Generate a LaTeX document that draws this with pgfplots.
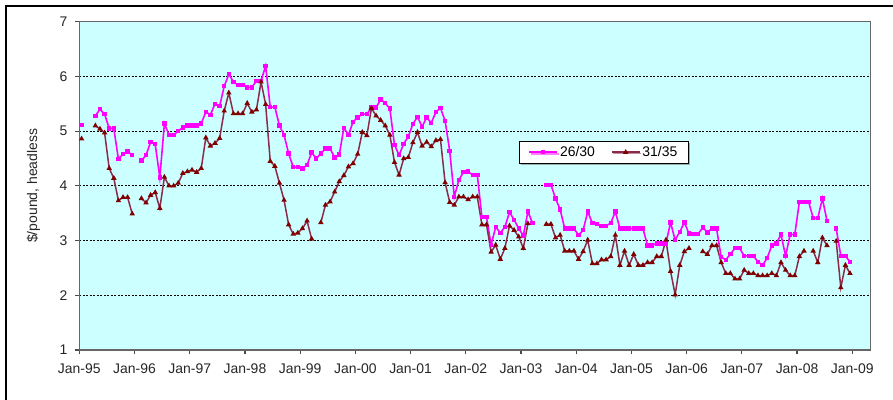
\documentclass[border=0pt]{standalone}
\usepackage{pgfplots}
\pgfplotsset{compat=1.18}
\usepackage{pgfplotstable}
\usepackage{fontspec}
\setmainfont{Liberation Sans}
\usetikzlibrary{shadows}
\definecolor{bgcyan}{HTML}{CCFFFF}
\definecolor{pinkl}{HTML}{FF00FF}
\definecolor{darkl}{HTML}{8C2A4A}
\definecolor{darkm}{HTML}{800000}
\pgfplotstableread{
m p d
0 5.11 4.86
1 nan nan
2 nan nan
3 5.28 5.10
4 5.40 5.04
5 5.31 4.97
6 5.05 4.32
7 5.05 4.14
8 4.49 3.73
9 4.58 3.79
10 4.63 3.79
11 4.56 3.49
12 nan nan
13 4.46 3.77
14 4.56 3.69
15 4.80 3.83
16 4.76 3.88
17 4.15 3.59
18 5.14 4.16
19 4.93 4.00
20 4.93 4.00
21 5.00 4.05
22 5.07 4.23
23 5.10 4.26
24 5.10 4.29
25 5.10 4.25
26 5.14 4.32
27 5.35 4.88
28 5.30 4.73
29 5.50 4.78
30 5.46 4.87
31 5.82 5.37
32 6.04 5.70
33 5.90 5.32
34 5.84 5.32
35 5.84 5.32
36 5.80 5.51
37 5.80 5.35
38 5.92 5.39
39 5.92 5.90
40 6.19 5.49
41 5.44 4.45
42 5.44 4.36
43 5.10 4.05
44 4.93 3.74
45 4.59 3.29
46 4.34 3.12
47 4.34 3.14
48 4.32 3.22
49 4.38 3.36
50 4.61 3.03
51 4.50 nan
52 4.59 3.33
53 4.68 3.65
54 4.68 3.71
55 4.52 3.89
56 4.57 4.08
57 5.06 4.19
58 4.93 4.35
59 5.17 4.41
60 5.25 4.58
61 5.31 4.98
62 5.31 4.92
63 5.43 5.42
64 5.43 5.28
65 5.58 5.20
66 5.51 5.10
67 5.41 4.93
68 4.75 4.43
69 4.56 4.20
70 4.77 4.50
71 4.90 4.52
72 5.13 4.79
73 5.26 4.98
74 5.08 4.73
75 5.25 4.80
76 5.15 4.72
77 5.35 4.83
78 5.42 4.85
79 5.19 4.06
80 4.64 3.70
81 3.80 3.65
82 4.11 3.80
83 4.25 3.80
84 4.26 3.75
85 4.20 3.80
86 4.20 3.80
87 3.43 3.29
88 3.43 3.29
89 2.92 2.79
90 3.25 2.92
91 3.14 2.66
92 3.25 2.86
93 3.52 3.27
94 3.38 3.19
95 3.22 3.07
96 3.09 2.86
97 3.53 3.31
98 3.32 nan
99 nan nan
100 nan nan
101 4.02 3.30
102 4.02 3.30
103 3.77 3.05
104 3.57 3.10
105 3.22 2.81
106 3.22 2.81
107 3.22 2.81
108 3.10 2.66
109 3.19 2.80
110 3.53 3.01
111 3.32 2.58
112 3.30 2.58
113 3.27 2.65
114 3.27 2.65
115 3.32 2.71
116 3.53 3.10
117 3.22 2.55
118 3.22 2.81
119 3.22 2.55
120 3.22 2.75
121 3.22 2.55
122 3.22 2.55
123 2.91 2.60
124 2.91 2.60
125 2.95 2.71
126 2.95 2.71
127 2.95 3.01
128 3.33 2.44
129 3.01 2.01
130 3.16 2.55
131 3.33 2.80
132 3.13 2.86
133 3.12 nan
134 3.12 nan
135 3.24 2.80
136 3.15 2.75
137 3.22 2.91
138 3.22 2.91
139 2.70 2.60
140 2.65 2.40
141 2.75 2.40
142 2.86 2.30
143 2.86 2.30
144 2.72 2.46
145 2.72 2.40
146 2.72 2.40
147 2.61 2.36
148 2.55 2.36
149 2.68 2.36
150 2.91 2.40
151 2.95 2.36
152 3.11 2.60
153 2.72 2.46
154 3.11 2.36
155 3.11 2.36
156 3.71 2.71
157 3.71 2.81
158 3.71 nan
159 3.41 2.81
160 3.41 2.60
161 3.77 3.05
162 3.36 2.91
163 nan nan
164 3.22 2.99
165 2.72 2.14
166 2.72 2.55
167 2.61 2.40
}\datatab
\begin{document}
\begin{tikzpicture}
\useasboundingbox (0,0) rectangle (893bp,400bp);
\fill[white] (0,0) rectangle (893bp,400bp);
\draw[black, line width=1.2bp] (6bp,0) -- (6bp,394bp) -- (893bp,394bp);
\begin{axis}[
  at={(79.3bp,50bp)}, anchor=south west,
  scale only axis, width=791.4bp, height=328.3bp,
  xmin=0, xmax=172, ymin=1, ymax=7,
  xtick={0,12,...,168},
  xticklabels={Jan-95,Jan-96,Jan-97,Jan-98,Jan-99,Jan-00,Jan-01,Jan-02,Jan-03,Jan-04,Jan-05,Jan-06,Jan-07,Jan-08,Jan-09},
  ytick={1,2,...,7},
  xtick pos=left, ytick pos=left,
  ymajorgrids,
  grid style={black, dash pattern=on 2bp off 1.5bp, line width=0.8bp},
  axis background/.style={fill=bgcyan},
  axis line style={draw=gray!80!black, line width=1.2bp},
  tick align=outside, major tick length=4.5bp,
  tick style={draw=gray!60!black, line width=1.2bp},
  font=\fontsize{14}{16}\selectfont,
  ticklabel style={font=\fontsize{14}{16}\selectfont, text=black!85},
  xticklabel style={yshift=-6bp},
  yticklabel style={xshift=-4bp},
  /pgf/number format/assume math mode=true,
  unbounded coords=jump,
  ylabel={\$/pound, headless},
  ylabel style={at={(axis description cs:0,0.5)}, anchor=center, yshift=46bp, font=\fontsize{14}{16}\selectfont, text=black!85},
  legend columns=2,
  legend style={at={(axis description cs:0.5556,0.6366)}, anchor=north west,
    draw=black, line width=0.9bp, fill=white,
    inner xsep=9bp, inner ysep=3bp,
    font=\fontsize{14}{16}\selectfont,
    drop shadow={shadow xshift=1.5bp, shadow yshift=-1.5bp, fill=black!60},
    /tikz/every even column/.append style={column sep=14bp}},
  legend cell align=left,
  legend image code/.code={\draw[#1, mark repeat=2, mark phase=2] plot coordinates {(0bp,0bp) (14bp,0bp) (28bp,0bp)};},
]
\addplot[pinkl, line width=1.6bp, mark=square*, mark size=1.4bp, mark options={solid, fill=pinkl}]
  table[x expr=\thisrow{m}+0.5, y=p]{\datatab};
\addlegendentry{26/30}
\addplot[darkl, line width=1.5bp, mark=triangle*, mark size=1.7bp, mark options={solid, fill=darkm, draw=darkm}]
  table[x expr=\thisrow{m}+0.5, y=d]{\datatab};
\addlegendentry{31/35}
\end{axis}
\end{tikzpicture}
\end{document}
